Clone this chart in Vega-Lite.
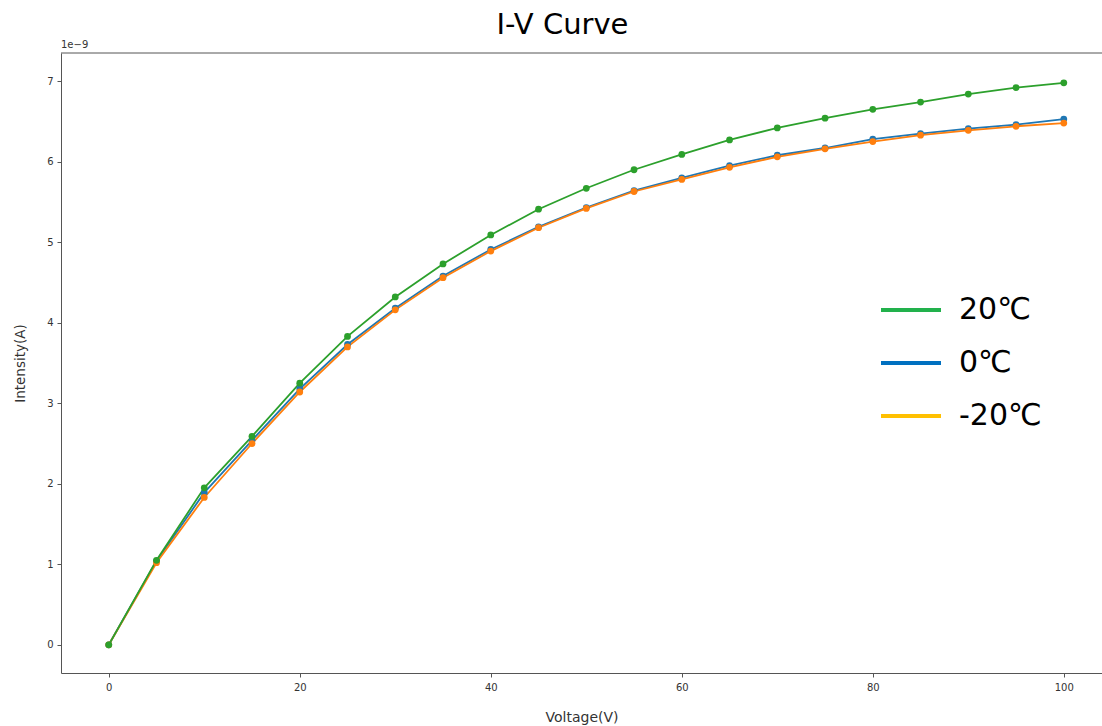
{
  "$schema": "https://vega.github.io/schema/vega-lite/v6.json",
  "width": 1041,
  "height": 620,
  "autosize": {"type": "none"},
  "padding": {"left": 61, "top": 53, "right": 0, "bottom": 53},
  "background": "white",
  "config": {
    "view": {"stroke": null},
    "font": "DejaVu Sans"
  },
  "title": {
    "text": "I-V Curve",
    "fontSize": 29,
    "font": "DejaVu Sans",
    "fontWeight": "normal",
    "color": "black",
    "anchor": "middle",
    "frame": "group",
    "dx": -19,
    "offset": 0
  },
  "data": {
    "values": [
      {"v": 0, "i": 0, "s": "0℃"},
      {"v": 5, "i": 1.04e-9, "s": "0℃"},
      {"v": 10, "i": 1.89e-9, "s": "0℃"},
      {"v": 15, "i": 2.54e-9, "s": "0℃"},
      {"v": 20, "i": 3.18e-9, "s": "0℃"},
      {"v": 25, "i": 3.73e-9, "s": "0℃"},
      {"v": 30, "i": 4.18e-9, "s": "0℃"},
      {"v": 35, "i": 4.58e-9, "s": "0℃"},
      {"v": 40, "i": 4.91e-9, "s": "0℃"},
      {"v": 45, "i": 5.19e-9, "s": "0℃"},
      {"v": 50, "i": 5.43e-9, "s": "0℃"},
      {"v": 55, "i": 5.64e-9, "s": "0℃"},
      {"v": 60, "i": 5.80e-9, "s": "0℃"},
      {"v": 65, "i": 5.95e-9, "s": "0℃"},
      {"v": 70, "i": 6.08e-9, "s": "0℃"},
      {"v": 75, "i": 6.17e-9, "s": "0℃"},
      {"v": 80, "i": 6.28e-9, "s": "0℃"},
      {"v": 85, "i": 6.35e-9, "s": "0℃"},
      {"v": 90, "i": 6.41e-9, "s": "0℃"},
      {"v": 95, "i": 6.46e-9, "s": "0℃"},
      {"v": 100, "i": 6.53e-9, "s": "0℃"},
      {"v": 0, "i": 0, "s": "-20℃"},
      {"v": 5, "i": 1.02e-9, "s": "-20℃"},
      {"v": 10, "i": 1.83e-9, "s": "-20℃"},
      {"v": 15, "i": 2.50e-9, "s": "-20℃"},
      {"v": 20, "i": 3.14e-9, "s": "-20℃"},
      {"v": 25, "i": 3.70e-9, "s": "-20℃"},
      {"v": 30, "i": 4.16e-9, "s": "-20℃"},
      {"v": 35, "i": 4.56e-9, "s": "-20℃"},
      {"v": 40, "i": 4.89e-9, "s": "-20℃"},
      {"v": 45, "i": 5.18e-9, "s": "-20℃"},
      {"v": 50, "i": 5.42e-9, "s": "-20℃"},
      {"v": 55, "i": 5.63e-9, "s": "-20℃"},
      {"v": 60, "i": 5.78e-9, "s": "-20℃"},
      {"v": 65, "i": 5.93e-9, "s": "-20℃"},
      {"v": 70, "i": 6.06e-9, "s": "-20℃"},
      {"v": 75, "i": 6.16e-9, "s": "-20℃"},
      {"v": 80, "i": 6.25e-9, "s": "-20℃"},
      {"v": 85, "i": 6.33e-9, "s": "-20℃"},
      {"v": 90, "i": 6.39e-9, "s": "-20℃"},
      {"v": 95, "i": 6.44e-9, "s": "-20℃"},
      {"v": 100, "i": 6.48e-9, "s": "-20℃"},
      {"v": 0, "i": 0, "s": "20℃"},
      {"v": 5, "i": 1.05e-9, "s": "20℃"},
      {"v": 10, "i": 1.95e-9, "s": "20℃"},
      {"v": 15, "i": 2.59e-9, "s": "20℃"},
      {"v": 20, "i": 3.25e-9, "s": "20℃"},
      {"v": 25, "i": 3.83e-9, "s": "20℃"},
      {"v": 30, "i": 4.32e-9, "s": "20℃"},
      {"v": 35, "i": 4.73e-9, "s": "20℃"},
      {"v": 40, "i": 5.09e-9, "s": "20℃"},
      {"v": 45, "i": 5.41e-9, "s": "20℃"},
      {"v": 50, "i": 5.67e-9, "s": "20℃"},
      {"v": 55, "i": 5.90e-9, "s": "20℃"},
      {"v": 60, "i": 6.09e-9, "s": "20℃"},
      {"v": 65, "i": 6.27e-9, "s": "20℃"},
      {"v": 70, "i": 6.42e-9, "s": "20℃"},
      {"v": 75, "i": 6.54e-9, "s": "20℃"},
      {"v": 80, "i": 6.65e-9, "s": "20℃"},
      {"v": 85, "i": 6.74e-9, "s": "20℃"},
      {"v": 90, "i": 6.84e-9, "s": "20℃"},
      {"v": 95, "i": 6.92e-9, "s": "20℃"},
      {"v": 100, "i": 6.98e-9, "s": "20℃"}
    ]
  },
  "layer": [
    {
      "mark": {"type": "line", "strokeWidth": 1.8},
      "encoding": {
        "x": {
          "field": "v",
          "type": "quantitative",
          "scale": {"domain": [-5, 104], "nice": false, "zero": false},
          "axis": {
            "title": "Voltage(V)",
            "values": [0, 20, 40, 60, 80, 100],
            "grid": false,
            "domainColor": "#555",
            "tickColor": "#555",
            "tickSize": 4,
            "labelFontSize": 10,
            "labelColor": "#333",
            "labelPadding": 5,
            "titleFontSize": 14,
            "titleFontWeight": "normal",
            "titleColor": "#333",
            "titlePadding": 18
          }
        },
        "y": {
          "field": "i",
          "type": "quantitative",
          "scale": {"domain": [-0.35e-9, 7.35e-9], "nice": false, "zero": false},
          "axis": {
            "title": "Intensity(A)",
            "values": [0, 1e-9, 2e-9, 3e-9, 4e-9, 5e-9, 6e-9, 7e-9],
            "labelExpr": "round(datum.value * 1e9) + ''",
            "grid": false,
            "domainColor": "#555",
            "tickColor": "#555",
            "tickSize": 4,
            "labelFontSize": 10,
            "labelColor": "#333",
            "labelPadding": 4,
            "titleFontSize": 13.5,
            "titleFontWeight": "normal",
            "titleColor": "#333",
            "titlePadding": 19
          }
        },
        "stroke": {
          "field": "s",
          "type": "nominal",
          "scale": {"domain": ["0℃", "-20℃", "20℃"], "range": ["#1f77b4", "#ff7f0e", "#2ca02c"]},
          "legend": null
        }
      }
    },
    {
      "mark": {"type": "point", "filled": true, "size": 46, "opacity": 1},
      "encoding": {
        "x": {"field": "v", "type": "quantitative"},
        "y": {"field": "i", "type": "quantitative"},
        "fill": {
          "field": "s",
          "type": "nominal",
          "scale": {"domain": ["0℃", "-20℃", "20℃"], "range": ["#1f77b4", "#ff7f0e", "#2ca02c"]},
          "legend": null
        }
      }
    },
    {
      "transform": [{"filter": "datum.v < -1000"}],
      "mark": {"type": "line"},
      "encoding": {
        "x": {"field": "v", "type": "quantitative"},
        "y": {"field": "i", "type": "quantitative"},
        "color": {
          "field": "s",
          "type": "nominal",
          "scale": {"domain": ["20℃", "0℃", "-20℃"], "range": ["#22b14c", "#0070c0", "#ffc000"]},
          "legend": {
            "title": null,
            "orient": "none",
            "legendX": 818,
            "legendY": 237,
            "symbolType": "stroke",
            "symbolSize": 3600,
            "symbolStrokeWidth": 4,
            "symbolOpacity": 1,
            "labelFontSize": 30,
            "labelFont": "DejaVu Sans",
            "labelColor": "black",
            "labelOffset": 16,
            "labelLimit": 300,
            "clipHeight": 40,
            "rowPadding": 13
          }
        }
      }
    },
    {
      "data": {"values": [{}]},
      "mark": {"type": "rule", "color": "#555", "strokeWidth": 1},
      "encoding": {"y": {"datum": 7.35e-9, "type": "quantitative"}}
    },
    {
      "data": {"values": [{}]},
      "mark": {"type": "text", "align": "left", "baseline": "bottom", "dy": -3, "fontSize": 10, "color": "#333"},
      "encoding": {
        "x": {"datum": -5, "type": "quantitative"},
        "y": {"datum": 7.35e-9, "type": "quantitative"},
        "text": {"value": "1e−9"}
      }
    }
  ]
}
